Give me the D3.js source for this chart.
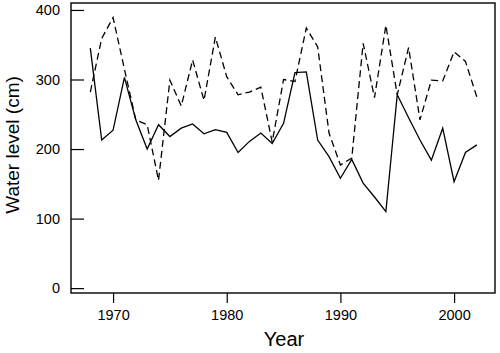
<!DOCTYPE html>
<html><head><meta charset="utf-8">
<script src="https://cdn.jsdelivr.net/npm/d3@7"></script>
<style>body{margin:0;background:#fff}svg{display:block}text{font-family:"Liberation Sans",Arial,sans-serif;fill:#000}</style>
</head><body><svg id="c" width="500" height="353"></svg>
<script>
const years = [1968,1969,1970,1971,1972,1973,1974,1975,1976,1977,1978,1979,1980,1981,1982,1983,1984,1985,1986,1987,1988,1989,1990,1991,1992,1993,1994,1995,1996,1997,1998,1999,2000,2001,2002];
const solidSeries = [345,213,227,303,242,200,235,218,230,236,222,228,224,195,211,223,208,237,310,311,213,189,158,185,151,131,110,278,245,213,184,230,153,195,206];
const dashedSeries = [282,359,389,315,242,235,155,299,262,328,270,361,304,278,282,289,210,300,297,374,347,223,177,187,352,274,378,278,346,242,299,298,340,326,275];
const xTicks = [1970,1980,1990,2000];
const yTicks = [0,100,200,300,400];

const svg = d3.select("#c");
const x = d3.scaleLinear().domain([1966.3,2003.6]).range([71,495]);
const y = d3.scaleLinear().domain([-7,410]).range([293,3]);

// frame
svg.append("rect").attr("x",71).attr("y",3).attr("width",424).attr("height",290)
  .attr("fill","none").attr("stroke","#000").attr("stroke-width",1.4);

// x axis
const xa = svg.append("g").attr("transform","translate(0,293)")
  .call(d3.axisBottom(x).tickValues(xTicks).tickFormat(d3.format("d")).tickSize(10).tickPadding(7));
xa.select(".domain").remove();
xa.selectAll("line").attr("stroke","#000").attr("stroke-width",1.2);
xa.selectAll("text").attr("font-size",14.5).attr("font-family","Liberation Sans, Arial, sans-serif");

// y axis (inward ticks)
const ya = svg.append("g").attr("transform","translate(71,0)")
  .call(d3.axisRight(y).tickValues(yTicks).tickSize(13).tickFormat(d3.format("d")));
ya.select(".domain").remove();
ya.selectAll("line").attr("stroke","#000").attr("stroke-width",1.2);
ya.selectAll("text").attr("x",-11).attr("text-anchor","end").attr("font-size",14.5)
  .attr("font-family","Liberation Sans, Arial, sans-serif");

const line = d3.line().x((d,i)=>x(years[i])).y(d=>y(d));
svg.append("path").datum(solidSeries).attr("d",line).attr("fill","none")
  .attr("stroke","#000").attr("stroke-width",1.3).attr("stroke-linejoin","miter");
svg.append("path").datum(dashedSeries).attr("d",line).attr("fill","none")
  .attr("stroke","#000").attr("stroke-width",1.3).attr("stroke-dasharray","7,4");

svg.append("text").attr("x",284).attr("y",346).attr("text-anchor","middle")
  .attr("font-size",20).text("Year");
svg.append("text").attr("transform","translate(19,145) rotate(-90)").attr("text-anchor","middle")
  .attr("font-size",19).text("Water level (cm)");
</script></body></html>
